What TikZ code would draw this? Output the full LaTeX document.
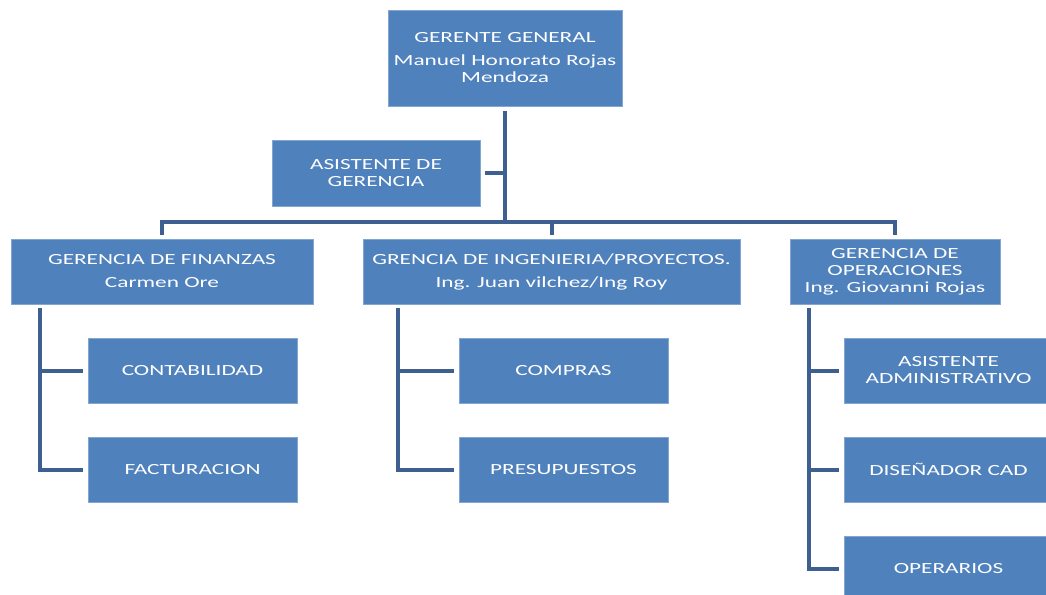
\documentclass[tikz,border=0pt]{standalone}
\usepackage{fontspec}
\setmainfont{Carlito}[FakeStretch=1.5]
\definecolor{boxblue}{RGB}{79,129,189}
\definecolor{linkblue}{RGB}{62,96,145}
\begin{document}
\begin{tikzpicture}[x=1pt,y=-1pt,
  box/.style={rectangle,fill=boxblue,draw=boxblue!70!white,line width=0.6pt,text=white,
    align=center,inner sep=0pt,font=\fontsize{15.5}{17}\selectfont},
  conn/.style={draw=linkblue,line width=4pt}]
\useasboundingbox (0,0) rectangle (1046,594);
\clip (0,0) rectangle (1046,594);
% top level
\node[box,minimum width=234pt,minimum height=96pt] (gg) at (505,58)
  {GERENTE GENERAL\\[6pt]Manuel Honorato Rojas\\Mendoza};
\node[box,minimum width=208pt,minimum height=66pt] (ag) at (376,173)
  {ASISTENTE DE\\GERENCIA};
% managers
\node[box,minimum width=302pt,minimum height=65pt] (fin) at (162,271.5)
  {GERENCIA DE FINANZAS\\[6pt]Carmen Ore};
\node[box,minimum width=377pt,minimum height=65pt] (ing) at (551.5,271.5)
  {GRENCIA DE INGENIERIA/PROYECTOS.\\[6pt]Ing. Juan vilchez/Ing Roy};
\node[box,minimum width=210pt,minimum height=65pt] (ope) at (895,271.5)
  {GERENCIA DE\\OPERACIONES\\Ing. Giovanni Rojas};
% children
\node[box,minimum width=209pt,minimum height=65pt] (con) at (192.5,370.5) {CONTABILIDAD};
\node[box,minimum width=209pt,minimum height=65pt] (fac) at (192.5,469.5) {FACTURACION};
\node[box,minimum width=209pt,minimum height=65pt] (com) at (563.5,370.5) {COMPRAS};
\node[box,minimum width=209pt,minimum height=65pt] (pre) at (563.5,469.5) {PRESUPUESTOS};
\node[box,minimum width=209pt,minimum height=65pt] (asi) at (948.5,370.5) {ASISTENTE\\ADMINISTRATIVO};
\node[box,minimum width=209pt,minimum height=65pt] (dis) at (948.5,469.5) {DISEÑADOR CAD};
\node[box,minimum width=209pt,minimum height=65pt] (opr) at (948.5,568.5) {OPERARIOS};
% connectors
\coordinate (bus) at (506,222);
\draw[conn] ([yshift=-5pt]gg.south) -- (gg.south |- bus);
\draw[conn] ([xshift=5pt]ag.east) -- (ag.east -| bus);
\draw[conn] ([yshift=4pt]fin.north) -- (fin.north |- bus) -- (ope.north |- bus) -- ([yshift=4pt]ope.north);
\draw[conn] (ing.north |- bus) -- ([yshift=4pt]ing.north);
% finanzas children
\coordinate (fl) at (40,308);
\draw[conn] (fl) |- ([xshift=-5pt]fac.west);
\draw[conn] (fl |- con.west) -- ([xshift=-5pt]con.west);
% ingenieria children
\coordinate (il) at (398,308);
\draw[conn] (il) |- ([xshift=-5pt]pre.west);
\draw[conn] (il |- com.west) -- ([xshift=-5pt]com.west);
% operaciones children
\coordinate (ol) at (809,308);
\draw[conn] (ol) |- ([xshift=-5pt]opr.west);
\draw[conn] (ol |- asi.west) -- ([xshift=-5pt]asi.west);
\draw[conn] (ol |- dis.west) -- ([xshift=-5pt]dis.west);
\end{tikzpicture}
\end{document}
